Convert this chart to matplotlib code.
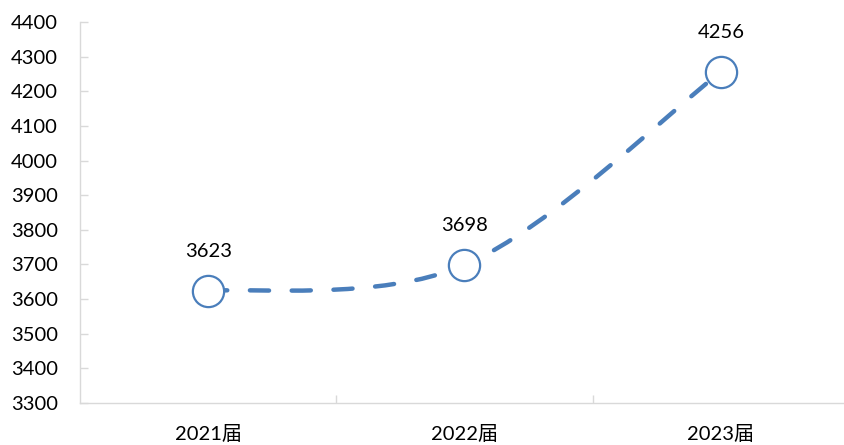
import matplotlib.pyplot as plt
import numpy as np
from matplotlib.path import Path
from matplotlib.patches import PathPatch

# Data
categories = ["2021届", "2022届", "2023届"]
values = [3623, 3698, 4256]
y_ticks = list(range(3300, 4401, 100))

LINE_COLOR = "#4A7EBB"
AXIS_COLOR = "#D9D9D9"

plt.rcParams['font.family'] = ['Lato', 'Noto Sans CJK SC', 'DejaVu Sans']


def smooth_path(xs, ys):
    # Excel-like smoothed line: cubic bezier with catmull-rom tangents
    pts = np.column_stack([xs, ys]).astype(float)
    n = len(pts)
    verts = [pts[0]]
    codes = [Path.MOVETO]
    for i in range(n - 1):
        prev = pts[max(i - 1, 0)]
        nxt = pts[min(i + 2, n - 1)]
        c1 = pts[i] + (pts[i + 1] - prev) / 6.0
        c2 = pts[i + 1] - (nxt - pts[i]) / 6.0
        verts += [c1, c2, pts[i + 1]]
        codes += [Path.CURVE4] * 3
    return Path(verts, codes)


fig = plt.figure(figsize=(8.45, 4.45), dpi=100)
ax = fig.add_axes([80 / 845, 1 - 403 / 445, 769 / 845, (403 - 22) / 445])

x = np.arange(len(categories))

# Dashed smoothed line
patch = PathPatch(smooth_path(x, values), facecolor="none", edgecolor=LINE_COLOR,
                  linewidth=3.2, linestyle=(0, (4.3, 5.1)), capstyle="round",
                  zorder=2)
ax.add_patch(patch)

# Hollow circle markers
ax.plot(x, values, linestyle="none", marker="o", markersize=22.5,
        markerfacecolor="white", markeredgecolor=LINE_COLOR,
        markeredgewidth=1.6, zorder=3)

# Data labels
for xi, v in zip(x, values):
    ax.annotate(str(v), (xi, v), xytext=(0, 28.5), textcoords="offset points",
                ha="center", va="center", fontsize=14.5, color="black")

ax.set_xlim(-0.5, len(categories) - 0.5)
ax.set_ylim(y_ticks[0], y_ticks[-1])
ax.set_yticks(y_ticks)
ax.set_yticklabels([str(t) for t in y_ticks])
ax.set_xticks(x)
ax.set_xticklabels(categories)
ax.set_xticks(np.arange(0.5, len(categories) - 0.5, 1.0), minor=True)

for side in ["top", "right"]:
    ax.spines[side].set_visible(False)
for side in ["left", "bottom"]:
    ax.spines[side].set_color(AXIS_COLOR)
    ax.spines[side].set_linewidth(1.0)

ax.tick_params(axis="y", direction="in", length=5.5, width=1.0, color=AXIS_COLOR,
               labelsize=14.5, pad=16)
ax.tick_params(axis="x", which="major", length=0, labelsize=14.5, pad=16)
ax.tick_params(axis="x", which="minor", direction="in", length=6, width=1.0,
               color=AXIS_COLOR)

fig.savefig("out.png", dpi=100)
plt.close(fig)
